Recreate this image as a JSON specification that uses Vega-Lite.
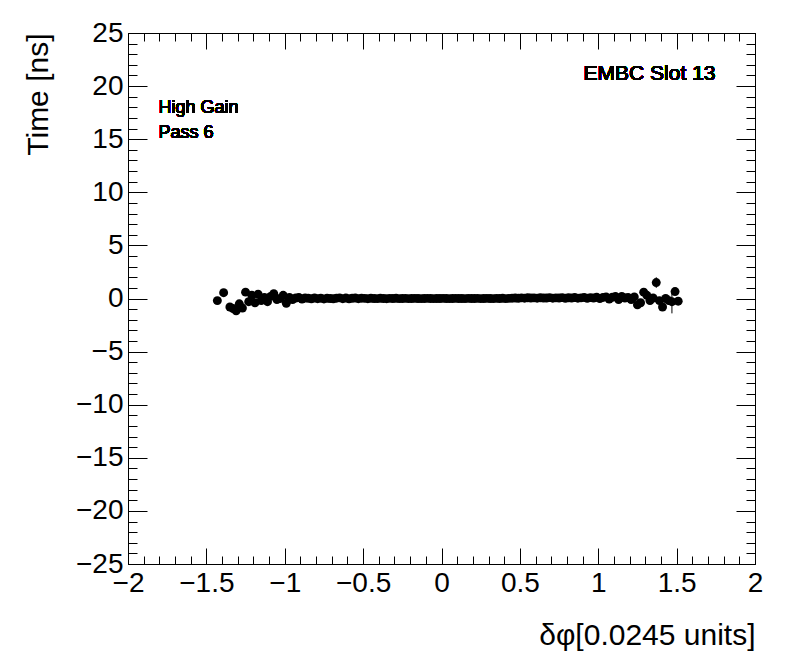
{
  "$schema": "https://vega.github.io/schema/vega-lite/v6.json",
  "width": 627,
  "height": 531,
  "autosize": {"type": "none"},
  "padding": {"left": 128, "top": 33, "right": 41, "bottom": 108},
  "background": "white",
  "config": {
    "view": {"stroke": "black", "strokeWidth": 1},
    "font": "Liberation Sans",
    "axis": {
      "domainColor": "black", "domainWidth": 1, "tickColor": "black", "tickWidth": 1,
      "labelColor": "black", "titleColor": "black", "grid": false,
      "labelFont": "Liberation Sans", "titleFont": "Liberation Sans",
      "labelFontWeight": "normal", "titleFontWeight": "normal",
      "labelFlush": false, "labelOverlap": false, "labelBound": false
    }
  },
  "data": {"values": [
    {"x": -1.43, "y": -0.2, "e": 0.2},
    {"x": -1.39, "y": 0.55, "e": 0.2},
    {"x": -1.35, "y": -0.8, "e": 0.2},
    {"x": -1.33, "y": -0.95, "e": 0.2},
    {"x": -1.31, "y": -1.15, "e": 0.2},
    {"x": -1.29, "y": -0.5, "e": 0.2},
    {"x": -1.27, "y": -0.9, "e": 0.2},
    {"x": -1.25, "y": 0.6, "e": 0.15},
    {"x": -1.23, "y": -0.3, "e": 0.15},
    {"x": -1.21, "y": 0.3, "e": 0.15},
    {"x": -1.19, "y": -0.4, "e": 0.15},
    {"x": -1.17, "y": 0.4, "e": 0.15},
    {"x": -1.15, "y": -0.2, "e": 0.1},
    {"x": -1.13, "y": 0.1, "e": 0.1},
    {"x": -1.11, "y": -0.3, "e": 0.1},
    {"x": -1.09, "y": 0.2, "e": 0.1},
    {"x": -1.07, "y": 0.45, "e": 0.1},
    {"x": -1.05, "y": -0.1, "e": 0.1},
    {"x": -1.03, "y": 0.0, "e": 0.1},
    {"x": -1.01, "y": 0.3, "e": 0.1},
    {"x": -0.99, "y": -0.45, "e": 0.1},
    {"x": -0.97, "y": 0.1, "e": 0.08},
    {"x": -0.95, "y": -0.1, "e": 0.08},
    {"x": -0.93, "y": 0.05, "e": 0.08},
    {"x": -0.91, "y": 0.1, "e": 0.08},
    {"x": -0.89, "y": -0.05, "e": 0.06},
    {"x": -0.87, "y": 0.05, "e": 0.06},
    {"x": -0.85, "y": 0.02, "e": 0.05},
    {"x": -0.83, "y": -0.03, "e": 0.05},
    {"x": -0.81, "y": 0.05, "e": 0.05},
    {"x": -0.79, "y": -0.02, "e": 0.05},
    {"x": -0.77, "y": 0.03, "e": 0.05},
    {"x": -0.75, "y": -0.04, "e": 0.04},
    {"x": -0.73, "y": 0.02, "e": 0.04},
    {"x": -0.71, "y": 0.0, "e": 0.04},
    {"x": -0.69, "y": -0.03, "e": 0.04},
    {"x": -0.67, "y": 0.03, "e": 0.04},
    {"x": -0.65, "y": 0.06, "e": 0.04},
    {"x": -0.63, "y": -0.02, "e": 0.04},
    {"x": -0.61, "y": 0.04, "e": 0.04},
    {"x": -0.59, "y": -0.03, "e": 0.03},
    {"x": -0.57, "y": 0.02, "e": 0.03},
    {"x": -0.55, "y": 0.05, "e": 0.03},
    {"x": -0.53, "y": -0.02, "e": 0.03},
    {"x": -0.51, "y": 0.03, "e": 0.03},
    {"x": -0.49, "y": 0.01, "e": 0.03},
    {"x": -0.47, "y": -0.02, "e": 0.03},
    {"x": -0.45, "y": 0.02, "e": 0.03},
    {"x": -0.43, "y": 0.0, "e": 0.03},
    {"x": -0.41, "y": -0.01, "e": 0.03},
    {"x": -0.39, "y": 0.02, "e": 0.03},
    {"x": -0.37, "y": 0.0, "e": 0.03},
    {"x": -0.35, "y": -0.02, "e": 0.03},
    {"x": -0.33, "y": 0.01, "e": 0.03},
    {"x": -0.31, "y": 0.0, "e": 0.03},
    {"x": -0.29, "y": 0.02, "e": 0.03},
    {"x": -0.27, "y": -0.01, "e": 0.03},
    {"x": -0.25, "y": 0.0, "e": 0.03},
    {"x": -0.23, "y": 0.01, "e": 0.03},
    {"x": -0.21, "y": -0.01, "e": 0.03},
    {"x": -0.19, "y": 0.0, "e": 0.03},
    {"x": -0.17, "y": 0.01, "e": 0.03},
    {"x": -0.15, "y": 0.0, "e": 0.03},
    {"x": -0.13, "y": -0.01, "e": 0.03},
    {"x": -0.11, "y": 0.0, "e": 0.03},
    {"x": -0.09, "y": 0.01, "e": 0.03},
    {"x": -0.07, "y": 0.0, "e": 0.03},
    {"x": -0.05, "y": -0.01, "e": 0.03},
    {"x": -0.03, "y": 0.0, "e": 0.03},
    {"x": -0.01, "y": 0.0, "e": 0.03},
    {"x": 0.01, "y": 0.01, "e": 0.03},
    {"x": 0.03, "y": 0.0, "e": 0.03},
    {"x": 0.05, "y": -0.01, "e": 0.03},
    {"x": 0.07, "y": 0.0, "e": 0.03},
    {"x": 0.09, "y": 0.01, "e": 0.03},
    {"x": 0.11, "y": 0.0, "e": 0.03},
    {"x": 0.13, "y": 0.0, "e": 0.03},
    {"x": 0.15, "y": -0.01, "e": 0.03},
    {"x": 0.17, "y": 0.01, "e": 0.03},
    {"x": 0.19, "y": 0.0, "e": 0.03},
    {"x": 0.21, "y": 0.0, "e": 0.03},
    {"x": 0.23, "y": 0.01, "e": 0.03},
    {"x": 0.25, "y": -0.01, "e": 0.03},
    {"x": 0.27, "y": 0.0, "e": 0.03},
    {"x": 0.29, "y": 0.01, "e": 0.03},
    {"x": 0.31, "y": 0.0, "e": 0.03},
    {"x": 0.33, "y": -0.01, "e": 0.03},
    {"x": 0.35, "y": 0.01, "e": 0.03},
    {"x": 0.37, "y": 0.0, "e": 0.03},
    {"x": 0.39, "y": 0.02, "e": 0.03},
    {"x": 0.41, "y": -0.01, "e": 0.03},
    {"x": 0.43, "y": 0.01, "e": 0.03},
    {"x": 0.45, "y": 0.03, "e": 0.03},
    {"x": 0.47, "y": 0.05, "e": 0.03},
    {"x": 0.49, "y": 0.02, "e": 0.03},
    {"x": 0.51, "y": 0.06, "e": 0.03},
    {"x": 0.53, "y": 0.03, "e": 0.03},
    {"x": 0.55, "y": 0.07, "e": 0.03},
    {"x": 0.57, "y": 0.04, "e": 0.03},
    {"x": 0.59, "y": 0.06, "e": 0.03},
    {"x": 0.61, "y": 0.03, "e": 0.04},
    {"x": 0.63, "y": 0.07, "e": 0.04},
    {"x": 0.65, "y": 0.05, "e": 0.04},
    {"x": 0.67, "y": 0.04, "e": 0.04},
    {"x": 0.69, "y": 0.08, "e": 0.04},
    {"x": 0.71, "y": 0.03, "e": 0.04},
    {"x": 0.73, "y": 0.06, "e": 0.04},
    {"x": 0.75, "y": 0.04, "e": 0.04},
    {"x": 0.77, "y": 0.08, "e": 0.05},
    {"x": 0.79, "y": 0.02, "e": 0.05},
    {"x": 0.81, "y": 0.07, "e": 0.05},
    {"x": 0.83, "y": 0.04, "e": 0.05},
    {"x": 0.85, "y": 0.09, "e": 0.05},
    {"x": 0.87, "y": 0.03, "e": 0.05},
    {"x": 0.89, "y": 0.06, "e": 0.06},
    {"x": 0.91, "y": 0.1, "e": 0.06},
    {"x": 0.93, "y": 0.02, "e": 0.06},
    {"x": 0.95, "y": 0.08, "e": 0.06},
    {"x": 0.97, "y": 0.05, "e": 0.07},
    {"x": 0.99, "y": 0.12, "e": 0.07},
    {"x": 1.01, "y": 0.0, "e": 0.08},
    {"x": 1.03, "y": 0.1, "e": 0.08},
    {"x": 1.05, "y": 0.15, "e": 0.08},
    {"x": 1.07, "y": -0.05, "e": 0.09},
    {"x": 1.09, "y": 0.12, "e": 0.09},
    {"x": 1.11, "y": 0.18, "e": 0.1},
    {"x": 1.13, "y": -0.1, "e": 0.1},
    {"x": 1.15, "y": 0.2, "e": 0.1},
    {"x": 1.17, "y": 0.05, "e": 0.1},
    {"x": 1.19, "y": 0.1, "e": 0.12},
    {"x": 1.21, "y": -0.1, "e": 0.12},
    {"x": 1.23, "y": 0.15, "e": 0.15},
    {"x": 1.25, "y": -0.6, "e": 0.15},
    {"x": 1.27, "y": -0.4, "e": 0.2},
    {"x": 1.29, "y": 0.6, "e": 0.2},
    {"x": 1.31, "y": 0.3, "e": 0.2},
    {"x": 1.33, "y": -0.2, "e": 0.2},
    {"x": 1.35, "y": 0.05, "e": 0.25},
    {"x": 1.37, "y": 1.5, "e": 0.5},
    {"x": 1.39, "y": -0.2, "e": 0.3},
    {"x": 1.41, "y": -0.8, "e": 0.3},
    {"x": 1.43, "y": 0.0, "e": 0.3},
    {"x": 1.45, "y": -0.2, "e": 0.4},
    {"x": 1.47, "y": -0.3, "e": 1.1},
    {"x": 1.49, "y": 0.65, "e": 0.3},
    {"x": 1.51, "y": -0.25, "e": 0.3}
  ]},
  "layer": [
    {
      "mark": {"type": "errorbar", "color": "black", "thickness": 1},
      "encoding": {
        "x": {
          "field": "x", "type": "quantitative",
          "scale": {"domain": [-2, 2], "nice": false, "zero": false},
          "axis": {
            "orient": "bottom",
            "values": [-2,-1.9,-1.8,-1.7,-1.6,-1.5,-1.4,-1.3,-1.2,-1.1,-1,-0.9,-0.8,-0.7,-0.6,-0.5,-0.4,-0.3,-0.2,-0.1,0,0.1,0.2,0.3,0.4,0.5,0.6,0.7,0.8,0.9,1,1.1,1.2,1.3,1.4,1.5,1.6,1.7,1.8,1.9,2],
            "format": "~g",
            "labelExpr": "abs(datum.value*2 - round(datum.value*2)) < 0.001 ? datum.label : ''",
            "tickSize": {"condition": {"test": "abs(datum.value*2 - round(datum.value*2)) < 0.001", "value": -16}, "value": -8},
            "labelFontSize": 28,
            "labelPadding": 21,
            "title": "δφ[0.0245 units]",
            "titleFontSize": 30,
            "titleAlign": "right",
            "titleBaseline": "alphabetic",
            "titleAnchor": "end",
            "titleX": 627,
            "titleY": 80
          }
        },
        "y": {
          "field": "y", "type": "quantitative",
          "scale": {"domain": [-25, 25], "nice": false, "zero": false},
          "axis": {
            "orient": "left",
            "values": [-25,-24,-23,-22,-21,-20,-19,-18,-17,-16,-15,-14,-13,-12,-11,-10,-9,-8,-7,-6,-5,-4,-3,-2,-1,0,1,2,3,4,5,6,7,8,9,10,11,12,13,14,15,16,17,18,19,20,21,22,23,24,25],
            "format": "~g",
            "labelExpr": "datum.value % 5 == 0 ? datum.label : ''",
            "tickSize": {"condition": {"test": "datum.value % 5 == 0", "value": -19}, "value": -9},
            "labelFontSize": 28,
            "labelPadding": 24,
            "title": "Time [ns]",
            "titleFontSize": 30,
            "titleAngle": -90,
            "titleAlign": "right",
            "titleBaseline": "alphabetic",
            "titleAnchor": "end",
            "titleX": -81,
            "titleY": 0
          }
        },
        "yError": {"field": "e"}
      }
    },
    {
      "mark": {"type": "point", "filled": true, "shape": "circle", "size": 80, "color": "black", "opacity": 1},
      "encoding": {
        "x": {
          "field": "x", "type": "quantitative",
          "axis": {
            "orient": "top",
            "values": [-2,-1.9,-1.8,-1.7,-1.6,-1.5,-1.4,-1.3,-1.2,-1.1,-1,-0.9,-0.8,-0.7,-0.6,-0.5,-0.4,-0.3,-0.2,-0.1,0,0.1,0.2,0.3,0.4,0.5,0.6,0.7,0.8,0.9,1,1.1,1.2,1.3,1.4,1.5,1.6,1.7,1.8,1.9,2],
            "labels": false,
            "title": null,
            "tickSize": {"condition": {"test": "abs(datum.value*2 - round(datum.value*2)) < 0.001", "value": -16}, "value": -8}
          }
        },
        "y": {
          "field": "y", "type": "quantitative",
          "axis": {
            "orient": "right",
            "values": [-25,-24,-23,-22,-21,-20,-19,-18,-17,-16,-15,-14,-13,-12,-11,-10,-9,-8,-7,-6,-5,-4,-3,-2,-1,0,1,2,3,4,5,6,7,8,9,10,11,12,13,14,15,16,17,18,19,20,21,22,23,24,25],
            "labels": false,
            "title": null,
            "tickSize": {"condition": {"test": "datum.value % 5 == 0", "value": -19}, "value": -9}
          }
        }
      }
    },
    {
      "mark": {"type": "text", "align": "right", "baseline": "alphabetic", "fontSize": 21, "font": "Liberation Sans", "color": "black"},
      "encoding": {
        "x": {"datum": 1.748, "type": "quantitative", "axis": null},
        "y": {"datum": 20.57, "type": "quantitative", "axis": null},
        "text": {"value": "EMBC Slot 13"}
      }
    },
    {
      "mark": {"type": "text", "align": "left", "baseline": "alphabetic", "fontSize": 18, "font": "Liberation Sans", "color": "black"},
      "encoding": {
        "x": {"datum": -1.805, "type": "quantitative", "axis": null},
        "y": {"datum": 17.47, "type": "quantitative", "axis": null},
        "text": {"value": "High Gain"}
      }
    },
    {
      "mark": {"type": "text", "align": "left", "baseline": "alphabetic", "fontSize": 18, "font": "Liberation Sans", "color": "black"},
      "encoding": {
        "x": {"datum": -1.805, "type": "quantitative", "axis": null},
        "y": {"datum": 15.11, "type": "quantitative", "axis": null},
        "text": {"value": "Pass 6"}
      }
    }
  ],
  "resolve": {"axis": {"x": "independent", "y": "independent"}}
}
